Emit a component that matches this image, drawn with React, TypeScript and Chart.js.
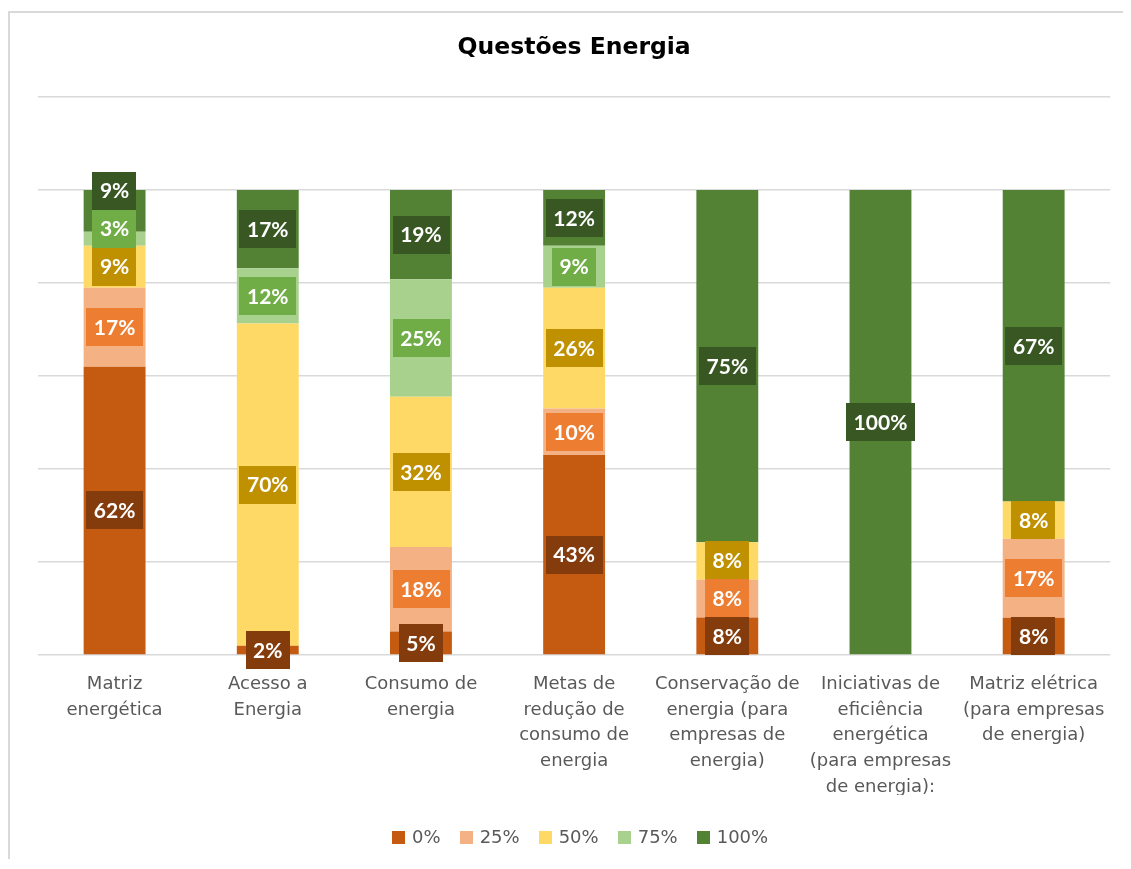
import React, { useEffect, useRef } from "react";
import { Chart, registerables } from "chart.js";

Chart.register(...registerables);

const title = "Questões Energia";
const categories: string[][] = [
  ["Matriz", "energética"],
  ["Acesso a", "Energia"],
  ["Consumo de", "energia"],
  ["Metas de", "redução de", "consumo de", "energia"],
  ["Conservação de", "energia (para", "empresas de", "energia)"],
  ["Iniciativas de", "eficiência", "energética", "(para empresas", "de energia):"],
  ["Matriz elétrica", "(para empresas", "de energia)"],
];
const seriesNames = ["0%", "25%", "50%", "75%", "100%"];
const values0 = [62, 2, 5, 43, 8, 0, 8];
const values25 = [17, 0, 18, 10, 8, 0, 17];
const values50 = [9, 70, 32, 26, 8, 0, 8];
const values75 = [3, 12, 25, 9, 0, 0, 0];
const values100 = [9, 17, 19, 12, 75, 100, 67];
const yTicks = [0, 20, 40, 60, 80, 100, 120];

const barColors = ["#c55a11", "#f4b183", "#ffd966", "#a9d18e", "#548235"];
const boxColors = ["#843c0c", "#ed7d31", "#bf9000", "#70ad47", "#385723"];

const rawSeries = [values0, values25, values50, values75, values100];

export default function App() {
  const ref = useRef<HTMLCanvasElement | null>(null);

  useEffect(() => {
    if (!ref.current) return;
    const sums = categories.map((_, i) => rawSeries.reduce((a, s) => a + s[i], 0));
    const datasets = rawSeries.map((s, d) => ({
      label: seriesNames[d],
      data: s.map((v, i) => (v / sums[i]) * 100),
      backgroundColor: barColors[d],
      borderWidth: 0,
      barPercentage: 0.404,
      categoryPercentage: 1,
    }));

    const labelPlugin = {
      id: "boxLabels",
      afterDatasetsDraw(chart: any) {
        const ctx = chart.ctx;
        ctx.save();
        ctx.font = "bold 21px Lato";
        ctx.textAlign = "center";
        ctx.textBaseline = "middle";
        const h = 38;
        for (let i = 0; i < categories.length; i++) {
          let prevTop = Infinity;
          for (let d = 0; d < rawSeries.length; d++) {
            const raw = rawSeries[d][i];
            if (!raw) continue;
            const el = chart.getDatasetMeta(d).data[i];
            const cy = (el.y + el.base) / 2;
            const text = raw + "%";
            const w = ctx.measureText(text).width + 15;
            let top = cy - h / 2;
            if (top + h > prevTop) top = prevTop - h;
            ctx.fillStyle = boxColors[d];
            ctx.fillRect(Math.round(el.x - w / 2), Math.round(top), Math.round(w), h);
            ctx.fillStyle = "#ffffff";
            ctx.fillText(text, el.x, top + h / 2 + 1);
            prevTop = top;
          }
        }
        ctx.restore();
      },
      afterDraw(chart: any) {
        const ctx = chart.ctx;
        const area = chart.chartArea;
        const cx = (area.left + area.right) / 2;
        ctx.save();
        ctx.fillStyle = "#000000";
        ctx.font = "bold 23.5px 'DejaVu Sans'";
        ctx.textAlign = "center";
        ctx.textBaseline = "middle";
        ctx.fillText(title, cx, 35);
        // legend
        ctx.font = "18px 'DejaVu Sans'";
        ctx.textAlign = "left";
        const sq = 13, gapIn = 7, gapOut = 19;
        const widths = seriesNames.map((n) => sq + gapIn + ctx.measureText(n).width);
        const total = widths.reduce((a, b) => a + b, 0) + gapOut * (widths.length - 1);
        let x = cx + 6 - total / 2;
        const ly = 824;
        seriesNames.forEach((n, d) => {
          ctx.fillStyle = barColors[d];
          ctx.fillRect(Math.round(x), ly - 6, sq, sq);
          ctx.fillStyle = "#595959";
          ctx.fillText(n, x + sq + gapIn, ly + 1);
          x += widths[d] + gapOut;
        });
        ctx.restore();
      },
    };

    const chart = new Chart(ref.current, {
      type: "bar",
      data: { labels: categories, datasets },
      plugins: [labelPlugin],
      options: {
        animation: false,
        responsive: false,
        layout: { padding: { left: 28, right: 8, top: 84, bottom: 64 } },
        plugins: {
          legend: { display: false },
          title: { display: false },
          tooltip: { enabled: false },
        },
        scales: {
          x: {
            stacked: true,
            grid: { display: false, drawTicks: false },
            border: { display: false },
            ticks: {
              color: "#595959",
              font: { family: "'DejaVu Sans'", size: 18, lineHeight: 1.44 },
              padding: 16,
              maxRotation: 0,
              autoSkip: false,
            },
            afterFit: (s: any) => {
              s.height = 140;
            },
          },
          y: {
            stacked: true,
            min: 0,
            max: 120,
            afterBuildTicks: (s: any) => {
              s.ticks = yTicks.map((v) => ({ value: v }));
            },
            ticks: { display: false },
            grid: { color: "#d9d9d9", lineWidth: 1.5, drawTicks: false },
            border: { display: false },
            afterFit: (s: any) => {
              s.width = 0;
            },
          },
        },
      },
    });
    return () => chart.destroy();
  }, []);

  return (
    <div style={{ paddingTop: 3 }}>
      <div
        style={{
          borderTop: "2px solid #d9d9d9",
          borderLeft: "2px solid #d9d9d9",
          width: 1121,
          height: 846,
          overflow: "hidden",
        }}
      >
        <canvas ref={ref} width={1111} height={846} style={{ display: "block" }} />
      </div>
    </div>
  );
}
